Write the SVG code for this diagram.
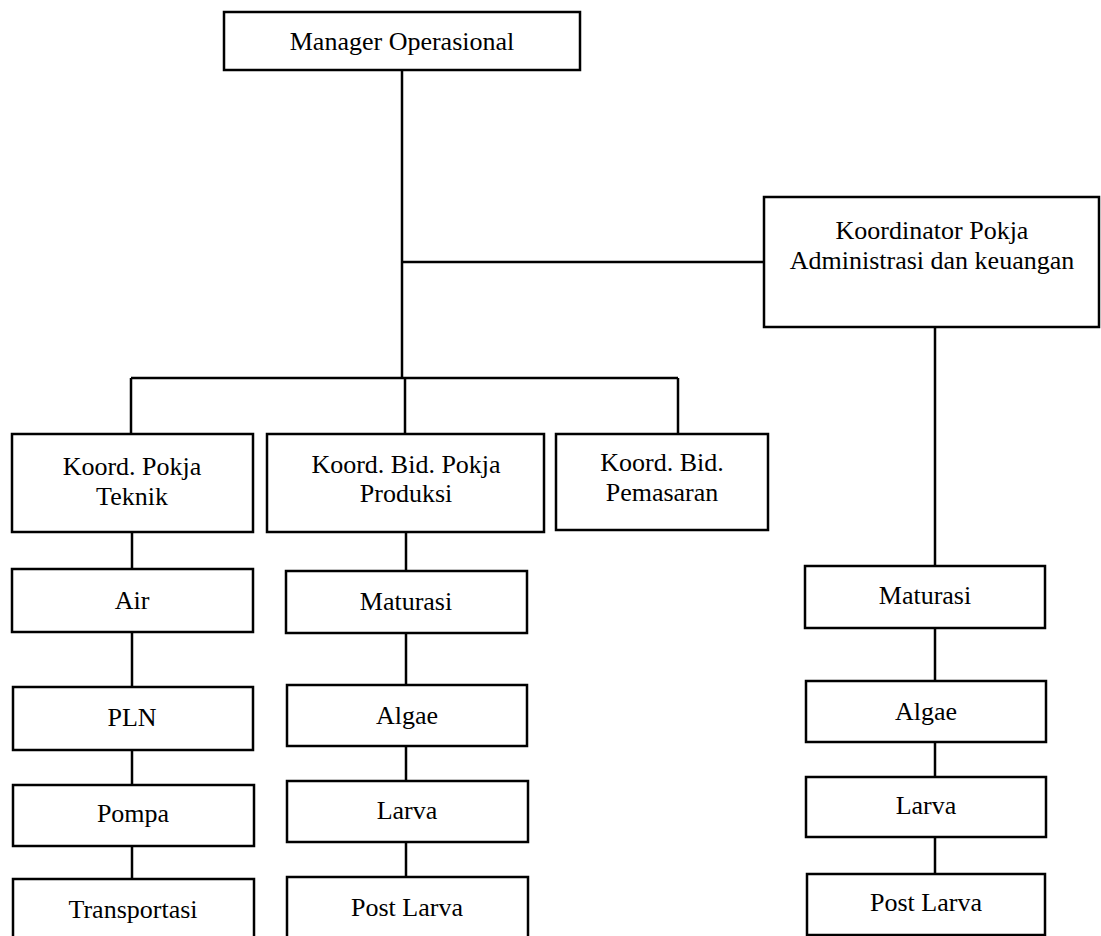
<svg xmlns="http://www.w3.org/2000/svg" width="1101" height="936" viewBox="0 0 1101 936">
<style>
.box{fill:#fff;stroke:#000;stroke-width:2.5}
.t{font-family:"Liberation Serif","Times New Roman",serif;font-size:26px;fill:#000;text-anchor:middle;dominant-baseline:central}
.c{fill:none;stroke:#000;stroke-width:2.5}
</style>
<rect width="1101" height="936" fill="#fff"/>
<g id="connectors">
<path class="c" d="M402 70V378"/>
<path class="c" d="M402 262H764"/>
<path class="c" d="M131 378H678"/>
<path class="c" d="M131 378V434M405 378V434M678 378V434"/>
<path class="c" d="M132 532V569M132 632V687M132 750V785M132 846V879"/>
<path class="c" d="M406 532V571M406 633V685M406 746V781M406 842V877"/>
<path class="c" d="M935 327V566M935 628V681M935 742V777M935 837V874"/>
</g>
<g id="manager"><rect class="box" x="224" y="12" width="356" height="58"/><text class="t" x="402" y="41">Manager Operasional</text></g>
<g id="koordinator"><rect class="box" x="764" y="197" width="335" height="130"/><text class="t" x="932" y="230">Koordinator Pokja</text><text class="t" x="932" y="260">Administrasi dan keuangan</text></g>
<g id="teknik"><rect class="box" x="12" y="434" width="241" height="98"/><text class="t" x="132" y="466">Koord. Pokja</text><text class="t" x="132" y="496">Teknik</text></g>
<g id="produksi"><rect class="box" x="267" y="434" width="277" height="98"/><text class="t" x="406" y="464">Koord. Bid. Pokja</text><text class="t" x="406" y="493">Produksi</text></g>
<g id="pemasaran"><rect class="box" x="556" y="434" width="212" height="96"/><text class="t" x="662" y="462">Koord. Bid.</text><text class="t" x="662" y="492">Pemasaran</text></g>
<g id="air"><rect class="box" x="12" y="569" width="241" height="63"/><text class="t" x="132" y="600">Air</text></g>
<g id="pln"><rect class="box" x="13" y="687" width="240" height="63"/><text class="t" x="132" y="717">PLN</text></g>
<g id="pompa"><rect class="box" x="13" y="785" width="241" height="61"/><text class="t" x="133" y="813">Pompa</text></g>
<g id="transportasi"><rect class="box" x="13" y="879" width="241" height="62"/><text class="t" x="133" y="909">Transportasi</text></g>
<g id="maturasi1"><rect class="box" x="286" y="571" width="241" height="62"/><text class="t" x="406" y="601">Maturasi</text></g>
<g id="algae1"><rect class="box" x="287" y="685" width="240" height="61"/><text class="t" x="407" y="715">Algae</text></g>
<g id="larva1"><rect class="box" x="287" y="781" width="241" height="61"/><text class="t" x="407" y="810">Larva</text></g>
<g id="postlarva1"><rect class="box" x="287" y="877" width="241" height="64"/><text class="t" x="407" y="907">Post Larva</text></g>
<g id="maturasi2"><rect class="box" x="805" y="566" width="240" height="62"/><text class="t" x="925" y="595">Maturasi</text></g>
<g id="algae2"><rect class="box" x="806" y="681" width="240" height="61"/><text class="t" x="926" y="711">Algae</text></g>
<g id="larva2"><rect class="box" x="806" y="777" width="240" height="60"/><text class="t" x="926" y="805">Larva</text></g>
<g id="postlarva2"><rect class="box" x="807" y="874" width="238" height="61"/><text class="t" x="926" y="902">Post Larva</text></g>
</svg>
